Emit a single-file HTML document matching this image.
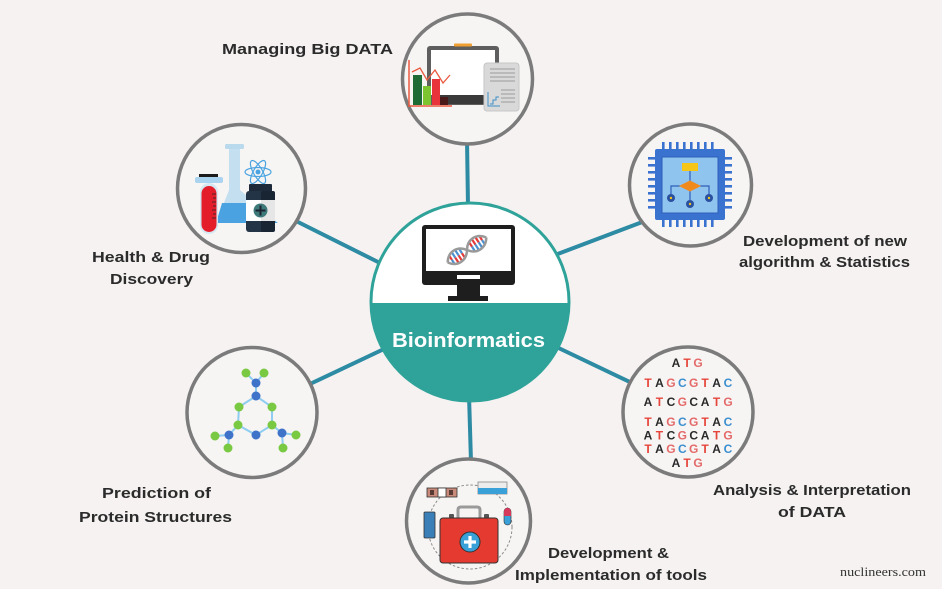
<!DOCTYPE html>
<html><head><meta charset="utf-8"><style>
html,body{margin:0;padding:0;background:#f5f2f1;}
svg{display:block;}
.lb{font-family:"Liberation Sans",sans-serif;font-weight:bold;font-size:15px;fill:#2b2b2b;}
.dna{font-family:"Liberation Sans",sans-serif;font-weight:bold;font-size:12px;text-anchor:middle;}
</style></head><body>
<svg width="942" height="589" viewBox="0 0 942 589" xmlns="http://www.w3.org/2000/svg">
<rect width="942" height="589" fill="#f5f2f1"/>
<!-- connectors -->
<g stroke="#2d8ba3" stroke-width="4" stroke-linecap="round">
<line x1="467" y1="140" x2="468" y2="206"/>
<line x1="555" y1="255" x2="645" y2="221"/>
<line x1="296" y1="221" x2="380" y2="263"/>
<line x1="310" y1="384" x2="384" y2="349"/>
<line x1="546" y1="342" x2="634" y2="384"/>
<line x1="469" y1="395" x2="471" y2="462"/>
</g>
<!-- central circle -->
<circle cx="470" cy="302" r="99" fill="#ffffff"/>
<path d="M371,303 A99,99 0 0 0 569,303 Z" fill="#2fa399"/>
<circle cx="470" cy="302" r="99" fill="none" stroke="#2fa399" stroke-width="3"/>
<!-- center monitor -->
<rect x="422" y="225" width="93" height="60" rx="3" fill="#1e1e1e"/>
<rect x="426" y="229" width="85" height="42" fill="#ffffff"/>
<rect x="457" y="275" width="23" height="4" fill="#ffffff"/>
<rect x="457" y="285" width="23" height="12" fill="#1e1e1e"/>
<rect x="448" y="296" width="40" height="5" fill="#1e1e1e"/>
<g transform="translate(467,250) rotate(-33)">
 <g stroke-width="2.2">
  <line x1="-18" y1="-4.3" x2="-18" y2="0" stroke="#e33b3b"/><line x1="-18" y1="0" x2="-18" y2="4.3" stroke="#4a90d0"/>
  <line x1="-14" y1="-6.4" x2="-14" y2="0" stroke="#4a90d0"/><line x1="-14" y1="0" x2="-14" y2="6.4" stroke="#e33b3b"/>
  <line x1="-10" y1="-6.6" x2="-10" y2="0" stroke="#4a90d0"/><line x1="-10" y1="0" x2="-10" y2="6.6" stroke="#e33b3b"/>
  <line x1="-6" y1="-4.9" x2="-6" y2="0" stroke="#4a90d0"/><line x1="-6" y1="0" x2="-6" y2="4.9" stroke="#e33b3b"/>
  <line x1="6" y1="-4.9" x2="6" y2="0" stroke="#e33b3b"/><line x1="6" y1="0" x2="6" y2="4.9" stroke="#4a90d0"/>
  <line x1="10" y1="-6.6" x2="10" y2="0" stroke="#e33b3b"/><line x1="10" y1="0" x2="10" y2="6.6" stroke="#4a90d0"/>
  <line x1="14" y1="-6.4" x2="14" y2="0" stroke="#e33b3b"/><line x1="14" y1="0" x2="14" y2="6.4" stroke="#4a90d0"/>
  <line x1="18" y1="-4.3" x2="18" y2="0" stroke="#e33b3b"/><line x1="18" y1="0" x2="18" y2="4.3" stroke="#4a90d0"/>
 </g>
 <path d="M-23,0 C-17,-9 -6,-9 0,0 C6,9 17,9 23,0" fill="none" stroke="#9a9a9a" stroke-width="2.5"/>
 <path d="M-23,0 C-17,9 -6,9 0,0 C6,-9 17,-9 23,0" fill="none" stroke="#9a9a9a" stroke-width="2.5"/>
</g>
<text x="392" y="347" textLength="153" lengthAdjust="spacingAndGlyphs" style="font-family:'Liberation Sans',sans-serif;font-weight:bold;font-size:20px;fill:#ffffff;">Bioinformatics</text>

<!-- outer circles -->
<g fill="#f7f5f4" stroke="#7b7b7b" stroke-width="3.5">
<circle cx="467.5" cy="79" r="65"/>
<circle cx="690.5" cy="185" r="61"/>
<circle cx="241.5" cy="188.5" r="64"/>
<circle cx="688" cy="412" r="65"/>
<circle cx="252" cy="412.5" r="65"/>
<circle cx="468.5" cy="521" r="62"/>
</g>

<!-- top icon: managing big data -->
<rect x="427" y="46" width="72" height="59" rx="3" fill="#5e5e5e"/>
<rect x="431" y="50" width="64" height="45" fill="#ffffff"/>
<rect x="454" y="43.5" width="18" height="3" rx="1" fill="#f0a030"/>
<rect x="440" y="95" width="57" height="9" fill="#3a3a3a"/>
<line x1="409" y1="60" x2="409" y2="107" stroke="#ea5a40" stroke-width="1.5"/>
<line x1="409" y1="106" x2="452" y2="106" stroke="#ea5a40" stroke-width="1.5"/>
<rect x="413" y="75" width="9" height="30" fill="#1e6b35"/>
<rect x="423" y="86" width="8" height="19" fill="#7cc531"/>
<rect x="432" y="79" width="8" height="26" fill="#e8333a"/>
<rect x="440" y="97" width="8" height="8" fill="#4a1a1a"/>
<polyline points="412,72 420,68 427,80 435,70 443,83 450,75" fill="none" stroke="#ea5a40" stroke-width="1.3"/>
<rect x="484" y="63" width="35" height="48" rx="3" fill="#d9d9d9" stroke="#c6c6c6" stroke-width="1"/>
<g stroke="#9a9a9a" stroke-width="1">
<line x1="490" y1="69" x2="515" y2="69"/><line x1="490" y1="73" x2="515" y2="73"/>
<line x1="490" y1="77" x2="515" y2="77"/><line x1="490" y1="81" x2="515" y2="81"/>
<line x1="501" y1="90" x2="515" y2="90"/><line x1="501" y1="94" x2="515" y2="94"/>
<line x1="501" y1="98" x2="515" y2="98"/><line x1="501" y1="102" x2="515" y2="102"/>
</g>
<polyline points="488,92 488,106 500,106" fill="none" stroke="#3a8fc8" stroke-width="1"/>
<polyline points="490,104 493,104 493,100 496,100 496,97 499,97" fill="none" stroke="#3a8fc8" stroke-width="1"/>

<!-- top-right icon: chip -->
<g fill="#3a72d0">
<rect x="662" y="142" width="2.6" height="8"/><rect x="669" y="142" width="2.6" height="8"/><rect x="676" y="142" width="2.6" height="8"/><rect x="683" y="142" width="2.6" height="8"/><rect x="690" y="142" width="2.6" height="8"/><rect x="697" y="142" width="2.6" height="8"/><rect x="704" y="142" width="2.6" height="8"/><rect x="711" y="142" width="2.6" height="8"/>
<rect x="662" y="219" width="2.6" height="8"/><rect x="669" y="219" width="2.6" height="8"/><rect x="676" y="219" width="2.6" height="8"/><rect x="683" y="219" width="2.6" height="8"/><rect x="690" y="219" width="2.6" height="8"/><rect x="697" y="219" width="2.6" height="8"/><rect x="704" y="219" width="2.6" height="8"/><rect x="711" y="219" width="2.6" height="8"/>
<rect x="648" y="157" width="8" height="2.6"/><rect x="648" y="164" width="8" height="2.6"/><rect x="648" y="171" width="8" height="2.6"/><rect x="648" y="178" width="8" height="2.6"/><rect x="648" y="185" width="8" height="2.6"/><rect x="648" y="192" width="8" height="2.6"/><rect x="648" y="199" width="8" height="2.6"/><rect x="648" y="206" width="8" height="2.6"/>
<rect x="724" y="157" width="8" height="2.6"/><rect x="724" y="164" width="8" height="2.6"/><rect x="724" y="171" width="8" height="2.6"/><rect x="724" y="178" width="8" height="2.6"/><rect x="724" y="185" width="8" height="2.6"/><rect x="724" y="192" width="8" height="2.6"/><rect x="724" y="199" width="8" height="2.6"/><rect x="724" y="206" width="8" height="2.6"/>
</g>
<rect x="655" y="149" width="70" height="71" rx="2" fill="#3a72d0"/>
<rect x="662" y="157" width="56" height="56" fill="#8fc4ef" stroke="#2f5fb8" stroke-width="1"/>
<rect x="682" y="163" width="16" height="8" fill="#f5c518"/>
<g stroke="#2f5fb8" stroke-width="1.2" fill="none">
<line x1="690" y1="171" x2="690" y2="181"/>
<polyline points="680,186 671,186 671,198"/>
<polyline points="700,186 709,186 709,198"/>
<line x1="690" y1="191" x2="690" y2="204"/>
</g>
<polygon points="679,186 690,180.5 701,186 690,191.5" fill="#f08a1c"/>
<g fill="#2a50a0"><circle cx="671" cy="198" r="4"/><circle cx="690" cy="204" r="4"/><circle cx="709" cy="198" r="4"/></g>
<g fill="#f5c518"><circle cx="671" cy="198" r="1.2"/><circle cx="690" cy="204" r="1.2"/><circle cx="709" cy="198" r="1.2"/></g>

<!-- top-left icon: health -->
<rect x="225" y="144" width="19" height="5" rx="1.5" fill="#b9d9ec"/>
<polygon points="229,149 240,149 240,190 278,223 216,223 229,190" fill="#c4e0f0"/>
<polygon points="222,203 247,203 278,223 216,223" fill="#4aa3e0"/>
<rect x="199" y="174" width="19" height="4" fill="#1b1b1b"/>
<rect x="195" y="177" width="28" height="6" rx="2" fill="#a9d3ee"/>
<rect x="200" y="183" width="18" height="51" rx="9" fill="#d5e8f2"/>
<rect x="201.5" y="186" width="15" height="46" rx="7.5" fill="#e31e2a"/>
<g stroke="#2a2a2a" stroke-width="0.8">
<line x1="212" y1="194" x2="216" y2="194"/><line x1="213" y1="198" x2="216" y2="198"/><line x1="212" y1="202" x2="216" y2="202"/><line x1="213" y1="206" x2="216" y2="206"/><line x1="212" y1="210" x2="216" y2="210"/><line x1="213" y1="214" x2="216" y2="214"/><line x1="212" y1="218" x2="216" y2="218"/>
</g>
<rect x="249" y="184" width="23" height="8" rx="1" fill="#1e2a3a"/>
<rect x="246" y="191" width="29" height="41" rx="3" fill="#243447"/>
<rect x="261" y="191" width="14" height="41" rx="2" fill="#1a2533"/>
<rect x="246" y="200" width="29" height="21" fill="#ffffff"/>
<rect x="261" y="200" width="14" height="21" fill="#e6e6e6"/>
<circle cx="260.5" cy="210.5" r="7" fill="#3f7a7a"/>
<path d="M260.5,205.5 V215.5 M255.5,210.5 H265.5" stroke="#1b2430" stroke-width="2"/>
<g fill="none" stroke="#4aa3e0" stroke-width="1.2">
<ellipse cx="258" cy="172" rx="13" ry="4.5"/>
<ellipse cx="258" cy="172" rx="13" ry="4.5" transform="rotate(60 258 172)"/>
<ellipse cx="258" cy="172" rx="13" ry="4.5" transform="rotate(120 258 172)"/>
</g>
<circle cx="258" cy="172" r="2.5" fill="#4aa3e0"/>

<!-- bottom-left: molecule -->
<g stroke="#8ecdf0" stroke-width="2">
<line x1="246" y1="373" x2="256" y2="383"/><line x1="264" y1="373" x2="256" y2="383"/><line x1="256" y1="383" x2="256" y2="396"/>
<polygon points="256,396 272,407 272,425 256,435 238,425 239,407" fill="none"/>
<line x1="238" y1="425" x2="229" y2="435"/><line x1="229" y1="435" x2="215" y2="436"/><line x1="229" y1="435" x2="228" y2="448"/>
<line x1="272" y1="425" x2="282" y2="433"/><line x1="282" y1="433" x2="296" y2="435"/><line x1="282" y1="433" x2="283" y2="448"/>
</g>
<g fill="#7ac943">
<circle cx="246" cy="373" r="4.5"/><circle cx="264" cy="373" r="4.5"/><circle cx="239" cy="407" r="4.5"/><circle cx="272" cy="407" r="4.5"/>
<circle cx="238" cy="425" r="4.5"/><circle cx="272" cy="425" r="4.5"/><circle cx="215" cy="436" r="4.5"/><circle cx="228" cy="448" r="4.5"/>
<circle cx="296" cy="435" r="4.5"/><circle cx="283" cy="448" r="4.5"/>
</g>
<g fill="#3f73c9">
<circle cx="256" cy="383" r="4.5"/><circle cx="256" cy="396" r="4.5"/><circle cx="256" cy="435" r="4.5"/><circle cx="229" cy="435" r="4.5"/><circle cx="282" cy="433" r="4.5"/>
</g>

<!-- right: DNA letters -->
<g class="dna">
<text y="367"><tspan x="676" fill="#2a2a2a">A</tspan><tspan x="687" fill="#e5453b">T</tspan><tspan x="698" fill="#e46a6a">G</tspan></text>
<text y="387"><tspan x="648" fill="#e5453b">T</tspan><tspan x="659.4" fill="#2a2a2a">A</tspan><tspan x="670.9" fill="#e46a6a">G</tspan><tspan x="682.3" fill="#3b8fd0">C</tspan><tspan x="693.7" fill="#e46a6a">G</tspan><tspan x="705.1" fill="#e5453b">T</tspan><tspan x="716.6" fill="#2a2a2a">A</tspan><tspan x="728" fill="#3b8fd0">C</tspan></text>
<text y="406"><tspan x="648" fill="#2a2a2a">A</tspan><tspan x="659.4" fill="#e5453b">T</tspan><tspan x="670.9" fill="#2a2a2a">C</tspan><tspan x="682.3" fill="#e46a6a">G</tspan><tspan x="693.7" fill="#2a2a2a">C</tspan><tspan x="705.1" fill="#2a2a2a">A</tspan><tspan x="716.6" fill="#e5453b">T</tspan><tspan x="728" fill="#e46a6a">G</tspan></text>
<text y="426"><tspan x="648" fill="#e5453b">T</tspan><tspan x="659.4" fill="#2a2a2a">A</tspan><tspan x="670.9" fill="#e46a6a">G</tspan><tspan x="682.3" fill="#3b8fd0">C</tspan><tspan x="693.7" fill="#e46a6a">G</tspan><tspan x="705.1" fill="#e5453b">T</tspan><tspan x="716.6" fill="#2a2a2a">A</tspan><tspan x="728" fill="#3b8fd0">C</tspan></text>
<text y="439.5"><tspan x="648" fill="#2a2a2a">A</tspan><tspan x="659.4" fill="#e5453b">T</tspan><tspan x="670.9" fill="#2a2a2a">C</tspan><tspan x="682.3" fill="#e46a6a">G</tspan><tspan x="693.7" fill="#2a2a2a">C</tspan><tspan x="705.1" fill="#2a2a2a">A</tspan><tspan x="716.6" fill="#e5453b">T</tspan><tspan x="728" fill="#e46a6a">G</tspan></text>
<text y="453"><tspan x="648" fill="#e5453b">T</tspan><tspan x="659.4" fill="#2a2a2a">A</tspan><tspan x="670.9" fill="#e46a6a">G</tspan><tspan x="682.3" fill="#3b8fd0">C</tspan><tspan x="693.7" fill="#e46a6a">G</tspan><tspan x="705.1" fill="#e5453b">T</tspan><tspan x="716.6" fill="#2a2a2a">A</tspan><tspan x="728" fill="#3b8fd0">C</tspan></text>
<text y="467"><tspan x="676" fill="#2a2a2a">A</tspan><tspan x="687" fill="#e5453b">T</tspan><tspan x="698" fill="#e46a6a">G</tspan></text>
</g>

<!-- bottom: tools -->
<circle cx="470" cy="527" r="42" fill="none" stroke="#8a8a8a" stroke-width="1" stroke-dasharray="2.5 2"/>
<path d="M458,519 V510 Q458,507 461,507 H477 Q480,507 480,510 V519" fill="none" stroke="#9a9a9a" stroke-width="3"/>
<rect x="449" y="514" width="5" height="4" rx="1" fill="#555"/><rect x="484" y="514" width="5" height="4" rx="1" fill="#555"/>
<rect x="440" y="518" width="58" height="45" rx="3" fill="#e53a2f" stroke="#333" stroke-width="1"/>
<circle cx="470" cy="542" r="10" fill="#3aa0d8" stroke="#333" stroke-width="1"/>
<path d="M470,536 V548 M464,542 H476" stroke="#ffffff" stroke-width="3.2"/>
<rect x="427" y="488" width="30" height="9" fill="#c98a7a" stroke="#333" stroke-width="0.8"/>
<rect x="438" y="488" width="8" height="9" fill="#ffffff" stroke="#333" stroke-width="0.8"/>
<rect x="430" y="490" width="4" height="5" fill="#5a3a34"/><rect x="449" y="490" width="4" height="5" fill="#5a3a34"/>
<rect x="478" y="482" width="29" height="12" fill="#ececec" stroke="#888" stroke-width="0.8"/>
<rect x="478" y="488" width="29" height="6" fill="#3aa0d8"/>
<rect x="504" y="508" width="7" height="17" rx="3.5" fill="#3aa0d8" stroke="#333" stroke-width="0.6"/>
<path d="M504,516 V511.5 A3.5,3.5 0 0 1 511,511.5 V516 Z" fill="#d63a5a"/>
<rect x="424" y="512" width="11" height="26" rx="1" fill="#3a7fb8" stroke="#333" stroke-width="0.8"/>

<!-- labels -->
<text class="lb" x="222" y="54" textLength="171" lengthAdjust="spacingAndGlyphs">Managing Big DATA</text>
<text class="lb" x="92" y="262" textLength="118" lengthAdjust="spacingAndGlyphs">Health &amp; Drug</text>
<text class="lb" x="110" y="284" textLength="83" lengthAdjust="spacingAndGlyphs">Discovery</text>
<text class="lb" x="743" y="246" textLength="164" lengthAdjust="spacingAndGlyphs">Development of new</text>
<text class="lb" x="739" y="267" textLength="171" lengthAdjust="spacingAndGlyphs">algorithm &amp; Statistics</text>
<text class="lb" x="713" y="495" textLength="198" lengthAdjust="spacingAndGlyphs">Analysis &amp; Interpretation</text>
<text class="lb" x="778" y="517" textLength="68" lengthAdjust="spacingAndGlyphs">of DATA</text>
<text class="lb" x="548" y="558" textLength="121" lengthAdjust="spacingAndGlyphs">Development &amp;</text>
<text class="lb" x="515" y="580" textLength="192" lengthAdjust="spacingAndGlyphs">Implementation of tools</text>
<text class="lb" x="102" y="498" textLength="109" lengthAdjust="spacingAndGlyphs">Prediction of</text>
<text class="lb" x="79" y="522" textLength="153" lengthAdjust="spacingAndGlyphs">Protein Structures</text>
<text x="840" y="576" textLength="86" lengthAdjust="spacingAndGlyphs" style="font-family:'Liberation Serif',serif;font-size:12.5px;fill:#333;">nuclineers.com</text>
</svg>
</body></html>
